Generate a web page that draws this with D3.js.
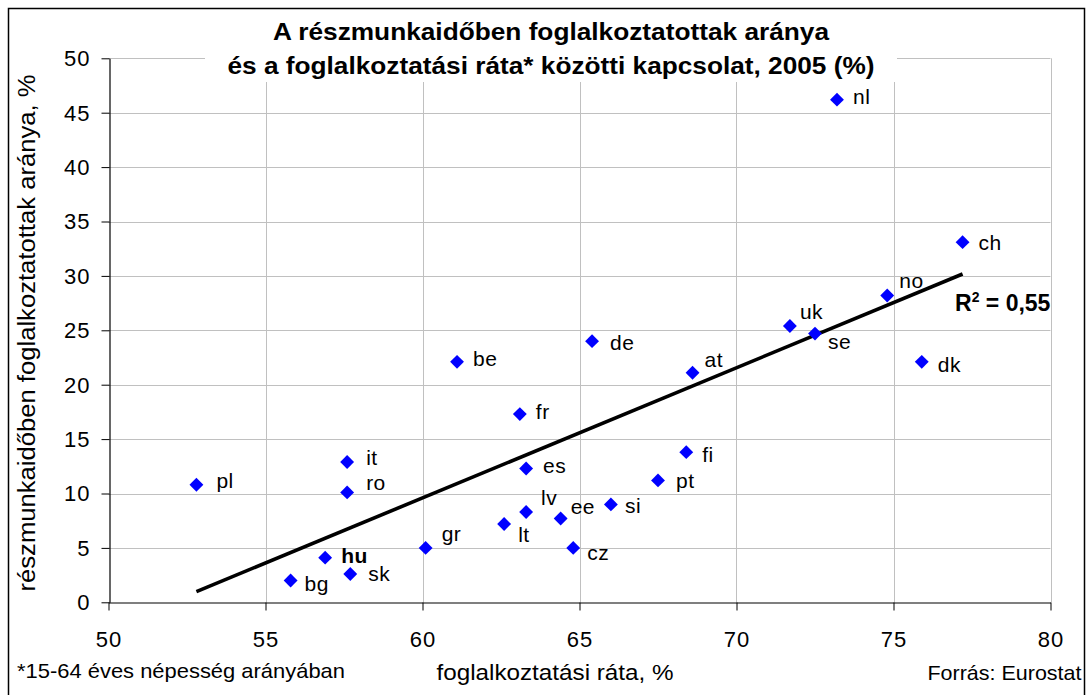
<!DOCTYPE html>
<html><head><meta charset="utf-8">
<script src="https://cdn.jsdelivr.net/npm/d3@7"></script>
<style>
body{margin:0;background:#fff}
svg{display:block}
text{font-family:"Liberation Sans",Arial,sans-serif;fill:#000}
</style>
</head><body><svg id="c" width="1087" height="695"></svg>
<script>
// ---- data ----
const countries = ["nl","ch","no","uk","se","de","be","dk","at","fr","fi","it","es","pt","pl","ro","si","lv","ee","lt","gr","cz","hu","sk","bg"];
const employmentRate = [73.2,77.2,74.8,71.7,72.5,65.4,61.1,75.9,68.6,63.1,68.4,57.6,63.3,67.5,52.8,57.6,66.0,63.3,64.4,62.6,60.1,64.8,56.9,57.7,55.8];
const partTimeShare  = [46.2,33.1,28.2,25.4,24.7,24.0,22.1,22.1,21.1,17.3,13.8,12.9,12.3,11.2,10.8,10.1,9.0,8.3,7.7,7.2,5.0,5.0,4.1,2.6,2.0];
const xTicks = [50,55,60,65,70,75,80];
const yTicks = [0,5,10,15,20,25,30,35,40,45,50];
const titleLines = ["A részmunkaidőben foglalkoztatottak aránya","és a foglalkoztatási ráta* közötti kapcsolat, 2005 (%)"];
const xTitle = "foglalkoztatási ráta, %";
const yTitle = "részmunkaidőben foglalkoztatottak aránya, %";
const footnote = "*15-64 éves népesség arányában";
const source = "Forrás: Eurostat";
const r2Label = "0,55";
const highlighted = "hu";

// ---- layout (label placement relative to each point) ----
const labelOffset = {
  pl:[20,-3], it:[19,-3], ro:[19,-9], hu:[16,-1], sk:[18,0], bg:[14,4], gr:[16,-13],
  lt:[14,12], lv:[15,-13], es:[17,-2], ee:[10,-11], si:[14,2], cz:[14,6], pt:[18,1],
  fi:[16,3], ch:[16,1], no:[12,-14], uk:[10,-13], se:[13,9], dk:[16,4], be:[16,-2],
  de:[18,2], at:[12,-12], fr:[16,-2], nl:[16,-2]
};

const data = countries.map((c,i)=>({c, x:employmentRate[i], y:partTimeShare[i]}));

const svg = d3.select("#c");
const L = 108.5, R = 1050.5, T = 58.3, B = 602.3;
const x = d3.scaleLinear().domain([50,80]).range([L,R]);
const y = d3.scaleLinear().domain([0,50]).range([B,T]);

svg.append("rect").attr("x",8.5).attr("y",8.5).attr("width",1076).attr("height",700)
  .attr("fill","#fff").attr("stroke","#000").attr("stroke-width",1.5);

// grid
svg.append("g").selectAll("line").data(yTicks.filter(d=>d>0)).join("line")
  .attr("x1",L).attr("x2",R).attr("y1",d=>Math.round(y(d))+0.5).attr("y2",d=>Math.round(y(d))+0.5)
  .attr("stroke","#c0c0c0").attr("stroke-width",1);
svg.append("g").selectAll("line").data(xTicks.filter(d=>d>50)).join("line")
  .attr("y1",T).attr("y2",B).attr("x1",d=>Math.round(x(d))+0.5).attr("x2",d=>Math.round(x(d))+0.5)
  .attr("stroke","#c0c0c0").attr("stroke-width",1);

// axes
const xAxis = svg.append("g").attr("transform",`translate(0,${Math.round(B)+0.5})`)
  .call(d3.axisBottom(x).tickValues(xTicks).tickSize(8).tickSizeOuter(0).tickPadding(14).tickFormat(d3.format("d")));
const yAxis = svg.append("g").attr("transform",`translate(${Math.round(L)+0.5},0)`)
  .call(d3.axisLeft(y).tickValues(yTicks).tickSize(8).tickSizeOuter(0).tickPadding(11).tickFormat(d3.format("d")));
[xAxis,yAxis].forEach(a=>{
  a.select(".domain").attr("stroke","#000").attr("stroke-width",1.2);
  a.selectAll(".tick line").attr("stroke","#000");
  a.selectAll(".tick text").attr("font-size",22).attr("font-family",'"Liberation Sans",Arial,sans-serif')
    .attr("fill","#000").style("letter-spacing","1px");
});
xAxis.selectAll(".tick text").attr("dy","0").attr("y",44);
yAxis.selectAll(".tick text").attr("dy","0.34em");

// trend line (least squares)
const mx = d3.mean(data,d=>d.x), my = d3.mean(data,d=>d.y);
const slope = d3.sum(data,d=>(d.x-mx)*(d.y-my))/d3.sum(data,d=>(d.x-mx)**2);
const icpt = my - slope*mx;
const xr = d3.extent(data,d=>d.x);
svg.append("line")
  .attr("x1",x(xr[0])).attr("y1",y(icpt+slope*xr[0]))
  .attr("x2",x(xr[1])).attr("y2",y(icpt+slope*xr[1]))
  .attr("stroke","#000").attr("stroke-width",3.6);

// title background + title
svg.append("rect").attr("x",205).attr("y",10).attr("width",692).attr("height",72).attr("fill","#fff");
const tl = [[40,556],[73.5,647]];
svg.append("g").selectAll("text").data(titleLines).join("text")
  .attr("x",551).attr("y",(d,i)=>tl[i][0]).attr("text-anchor","middle")
  .attr("font-size",24.5).attr("font-weight","bold")
  .attr("textLength",(d,i)=>tl[i][1]).attr("lengthAdjust","spacingAndGlyphs")
  .text(d=>d);

// points
const diamond = d3.symbol().type(d3.symbolSquare).size(96);
svg.append("g").selectAll("path").data(data).join("path")
  .attr("d",diamond)
  .attr("transform",d=>`translate(${x(d.x)},${y(d.y)}) rotate(45)`)
  .attr("fill","#0000ff");

// labels
svg.append("g").selectAll("text").data(data).join("text")
  .attr("x",d=>x(d.x)+labelOffset[d.c][0])
  .attr("y",d=>y(d.y)+labelOffset[d.c][1]+6.5)
  .attr("font-size",21)
  .attr("font-weight",d=>d.c===highlighted?"bold":"normal")
  .style("letter-spacing","0.5px")
  .text(d=>d.c);

// R2
const r2 = svg.append("text").attr("x",955).attr("y",311).attr("font-size",23).attr("font-weight","bold");
r2.append("tspan").text("R");
r2.append("tspan").attr("font-size",14).attr("dy",-9).text("2");
r2.append("tspan").attr("dy",9).text(" = " + r2Label);

// axis titles
svg.append("text").attr("transform","translate(35,333) rotate(-90)").attr("text-anchor","middle")
  .attr("font-size",23).attr("textLength",517).attr("lengthAdjust","spacingAndGlyphs").text(yTitle);
svg.append("text").attr("x",555).attr("y",680).attr("text-anchor","middle")
  .attr("font-size",22.5).attr("textLength",237).attr("lengthAdjust","spacingAndGlyphs").text(xTitle);
svg.append("text").attr("x",17).attr("y",678)
  .attr("font-size",21).attr("textLength",328).attr("lengthAdjust","spacingAndGlyphs").text(footnote);
svg.append("text").attr("x",1081.5).attr("y",680).attr("text-anchor","end")
  .attr("font-size",21).attr("textLength",154).attr("lengthAdjust","spacingAndGlyphs").text(source);
</script>
</body></html>
